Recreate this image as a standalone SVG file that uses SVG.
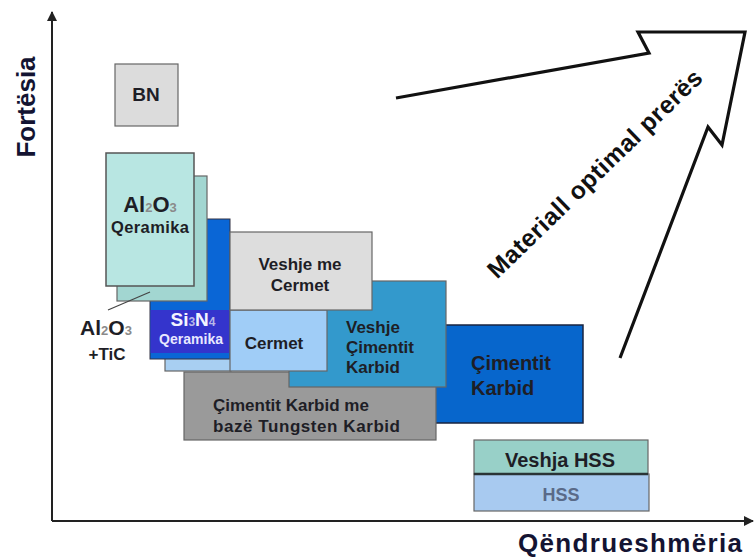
<svg xmlns="http://www.w3.org/2000/svg" width="755" height="559" viewBox="0 0 755 559">
  <style>
    text { font-family: "Liberation Sans", Arial, sans-serif; font-weight: bold; fill: #1e1e26; }
    .box { stroke: #666; stroke-width: 1.2; }
    .axis { stroke: #222; stroke-width: 2; fill: none; }
    .sub { fill: #8a8a8a; font-size: 13px; }
    .mid { text-anchor: middle; }
  </style>
  <defs>
    <marker id="axisHead" viewBox="0 0 10 10" refX="9" refY="5" markerWidth="5" markerHeight="5" orient="auto">
      <path d="M0,0 L10,5 L0,10 z" fill="#222"/>
    </marker>
  </defs>

  <!-- axes -->
  <g id="axes">
    <line class="axis" x1="52" y1="521" x2="52" y2="12" marker-end="url(#axisHead)"/>
    <line class="axis" x1="52" y1="521" x2="753" y2="521" marker-end="url(#axisHead)"/>
    <text transform="translate(35,107) rotate(-90)" class="mid" font-size="26" style="fill:#141432">Fortësia</text>
    <text x="630" y="552" class="mid" font-size="26" textLength="224" style="fill:#141432">Qëndrueshmëria</text>
  </g>

  <!-- optimal direction arrow -->
  <g id="optimal-arrow">
    <polyline points="396,98 649,53 638,32 745,32 722,145 708,127 620,358" fill="none" stroke="#111" stroke-width="3.2" stroke-linejoin="miter"/>
    <text transform="translate(595,174) rotate(-44)" class="mid" y="8" font-size="24.5" textLength="288" style="fill:#111">Materiall optimal prerës</text>
  </g>

  <!-- BN -->
  <g id="bn">
    <rect class="box" x="115" y="64" width="63" height="62" fill="#dcdcdc"/>
    <text x="146" y="101" class="mid" font-size="19">BN</text>
  </g>

  <!-- Çimentit Karbid -->
  <g id="cimentit-karbid">
    <rect x="420" y="325" width="163" height="98" fill="#0766cc" stroke="#1a2540" stroke-width="1.5"/>
    <text x="471" y="370" font-size="20">Çimentit</text>
    <text x="471" y="395" font-size="20">Karbid</text>
  </g>

  <!-- Çimentit Karbid me bazë Tungsten Karbid -->
  <g id="tungsten-karbid">
    <rect class="box" x="184" y="372" width="252" height="68" fill="#9a9a9a"/>
    <text x="213" y="411" font-size="17">Çimentit Karbid me</text>
    <text x="213" y="432" font-size="17" textLength="187">bazë Tungsten Karbid</text>
  </g>

  <!-- Veshje Çimentit Karbid -->
  <g id="veshje-cimentit">
    <rect class="box" x="289" y="281" width="157" height="106" fill="#3399cc"/>
    <text x="346" y="333" font-size="17">Veshje</text>
    <text x="346" y="353" font-size="17">Çimentit</text>
    <text x="346" y="373" font-size="17">Karbid</text>
  </g>

  <!-- Si3N4 Qeramika -->
  <g id="si3n4">
    <rect class="box" x="165" y="240" width="66" height="131" fill="#a8cff2"/>
    <rect x="150" y="219" width="80" height="140" fill="#0a66d6" stroke="#334" stroke-width="1"/>
    <rect x="150.5" y="310" width="79" height="43" fill="#3434cc"/>
    <text x="193" y="326" class="mid" font-size="19" style="fill:#f4f4ff">Si<tspan font-size="12" style="fill:#b8b8e8">3</tspan>N<tspan font-size="12" style="fill:#b8b8e8">4</tspan></text>
    <text x="191" y="344" class="mid" font-size="14" textLength="64" style="fill:#e8e8ff">Qeramika</text>
  </g>

  <!-- Cermet -->
  <g id="cermet">
    <rect class="box" x="230" y="310" width="97" height="61" fill="#a0cdf7"/>
    <text x="274" y="349" class="mid" font-size="17">Cermet</text>
  </g>

  <!-- Veshje me Cermet -->
  <g id="veshje-cermet">
    <rect class="box" x="230" y="232" width="142" height="78" fill="#dddddd"/>
    <text x="300" y="270" class="mid" font-size="17">Veshje me</text>
    <text x="300" y="291" class="mid" font-size="17">Cermet</text>
  </g>

  <!-- Al2O3 + TiC -->
  <g id="al2o3-tic">
    <rect class="box" x="117" y="176" width="90" height="125" fill="#a2d6d1"/>
    <text x="106" y="335" class="mid" font-size="21">Al<tspan class="sub">2</tspan>O<tspan class="sub">3</tspan></text>
    <text x="107" y="360" class="mid" font-size="17">+TiC</text>
  </g>

  <!-- Al2O3 Qeramika -->
  <g id="al2o3">
    <rect x="106" y="153" width="88" height="133" fill="#b8e6e2" stroke="#555" stroke-width="1.5"/>
    <text x="150" y="212" class="mid" font-size="22">Al<tspan class="sub">2</tspan>O<tspan class="sub">3</tspan></text>
    <text x="150" y="233" class="mid" font-size="16.5" textLength="78">Qeramika</text>
  </g>

  <!-- Veshja HSS / HSS -->
  <g id="veshja-hss">
    <rect class="box" x="474" y="440" width="174" height="34" fill="#98d0c8" stroke="#555"/>
    <text x="560" y="467" class="mid" font-size="20">Veshja HSS</text>
  </g>
  <g id="hss">
    <rect class="box" x="474" y="474" width="175" height="37" fill="#a8caf0" stroke="#666"/>
    <line x1="474" y1="474" x2="648" y2="474" stroke="#2a3436" stroke-width="2.5"/>
    <text x="561" y="501" class="mid" font-size="18" style="fill:#5a6a88">HSS</text>
  </g>

  <!-- connectors -->
  <g id="connectors">
    <line x1="108" y1="310" x2="150" y2="292" stroke="#444" stroke-width="1.2"/>
  </g>
</svg>
